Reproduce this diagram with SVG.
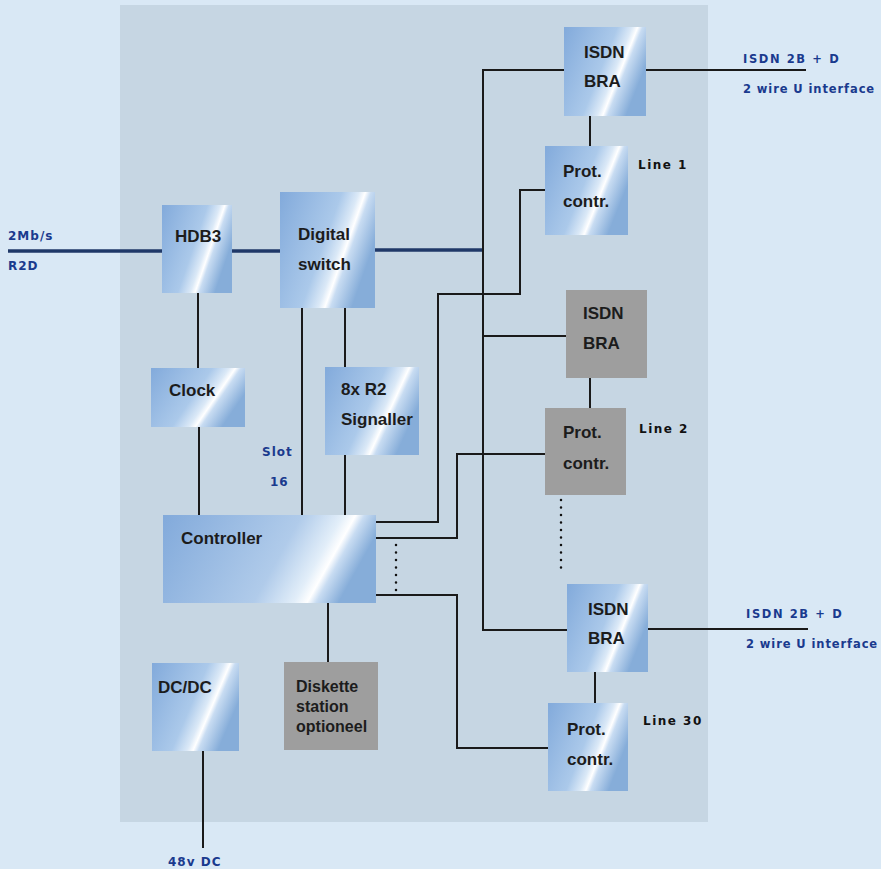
<svg xmlns="http://www.w3.org/2000/svg" width="881" height="869" viewBox="0 0 881 869">
<defs>
<linearGradient id="gBox" x1="0" y1="0" x2="1" y2="0.43">
<stop offset="0" stop-color="#82aadb"/>
<stop offset="0.55" stop-color="#abc9ea"/>
<stop offset="0.70" stop-color="#dbe9f7"/>
<stop offset="0.76" stop-color="#ffffff"/>
<stop offset="0.81" stop-color="#c8dcf2"/>
<stop offset="1" stop-color="#86add9"/>
</linearGradient>
<linearGradient id="gWide" x1="0" y1="0" x2="1" y2="0.23">
<stop offset="0" stop-color="#82aadb"/>
<stop offset="0.62" stop-color="#b0cbea"/>
<stop offset="0.80" stop-color="#e2eef9"/>
<stop offset="0.86" stop-color="#ffffff"/>
<stop offset="0.90" stop-color="#c8dcf2"/>
<stop offset="1" stop-color="#86add9"/>
</linearGradient>
<style>
.box{fill:url(#gBox);}
.wide{fill:url(#gWide);}
.gray{fill:#9e9e9e;}
.t{font-family:"Liberation Sans",Arial,sans-serif;font-weight:bold;font-size:17px;fill:#1c1c1c;}
.ts{font-family:"Liberation Sans",Arial,sans-serif;font-weight:bold;font-size:16px;fill:#1c1c1c;}
.lbl{font-family:"DejaVu Sans",sans-serif;font-weight:bold;font-size:12px;fill:#1a3a8e;letter-spacing:1px;}
.lbr{font-family:"DejaVu Sans",sans-serif;font-weight:bold;font-size:11.5px;fill:#1a3a8e;letter-spacing:1.6px;}
.lbw{font-family:"DejaVu Sans",sans-serif;font-weight:bold;font-size:11.5px;fill:#1a3a8e;letter-spacing:0.9px;}
.ln{font-family:"DejaVu Sans",sans-serif;font-weight:bold;font-size:12px;fill:#111;letter-spacing:1.5px;}
.w{fill:none;stroke:#1a1a1a;stroke-width:2;}
.thick{fill:none;stroke:#1f3868;stroke-width:3.5;}
.dot{fill:none;stroke:#111;stroke-width:2.5;stroke-linecap:round;stroke-dasharray:0 7.5;}
</style>
</defs>
<rect x="0" y="0" width="881" height="869" fill="#d9e8f5"/>
<rect x="120" y="5" width="588" height="817" fill="#c6d6e3"/>

<g id="connectors">
<path class="thick" d="M8 251 H162"/>
<path class="thick" d="M232 251 H280"/>
<path class="thick" d="M375 250 H483"/>
<path class="w" d="M198 293 V368"/>
<path class="w" d="M199 427 V515"/>
<path class="w" d="M302 308 V515"/>
<path class="w" d="M345 308 V367"/>
<path class="w" d="M345 455 V515"/>
<path class="w" d="M328 603 V662"/>
<path class="w" d="M203 751 V848"/>
<path class="w" d="M564 70 H483 V630 H567"/>
<path class="w" d="M483 336 H566"/>
<path class="w" d="M376 522 H438 V294 H520 V190 H545"/>
<path class="w" d="M376 538 H457 V454 H545"/>
<path class="w" d="M376 595 H457 V748 H548"/>
<path class="w" d="M590 116 V146"/>
<path class="w" d="M590 378 V408"/>
<path class="w" d="M595 672 V703"/>
<path class="w" d="M646 70 H806"/>
<path class="w" d="M648 629 H808"/>
<path class="dot" d="M396 545 V592"/>
<path class="dot" d="M561 500 V570"/>
</g>

<g id="hdb3"><rect class="box" x="162" y="205" width="70" height="88"/><text class="t" x="175" y="242">HDB3</text></g>
<g id="digital-switch"><rect class="box" x="280" y="192" width="95" height="116"/><text class="t" x="298" y="240">Digital</text><text class="t" x="298" y="270">switch</text></g>
<g id="clock"><rect class="box" x="151" y="368" width="94" height="59"/><text class="t" x="169" y="396">Clock</text></g>
<g id="signaller"><rect class="box" x="325" y="367" width="94" height="88"/><text class="t" x="341" y="395">8x R2</text><text class="t" x="341" y="425">Signaller</text></g>
<g id="controller"><rect class="wide" x="163" y="515" width="213" height="88"/><text class="t" x="181" y="544">Controller</text></g>
<g id="dcdc"><rect class="box" x="152" y="663" width="87" height="88"/><text class="t" x="158" y="693">DC/DC</text></g>
<g id="diskette"><rect class="gray" x="284" y="662" width="94" height="88"/><text class="ts" x="296" y="692">Diskette</text><text class="ts" x="296" y="712">station</text><text class="ts" x="296" y="732">optioneel</text></g>

<g id="isdn-bra-1"><rect class="box" x="564" y="27" width="82" height="89"/><text class="t" x="584" y="58">ISDN</text><text class="t" x="584" y="87">BRA</text></g>
<g id="prot-contr-1"><rect class="box" x="545" y="146" width="83" height="89"/><text class="t" x="563" y="177">Prot.</text><text class="t" x="563" y="207">contr.</text></g>
<g id="isdn-bra-2"><rect class="gray" x="566" y="290" width="81" height="88"/><text class="t" x="583" y="319">ISDN</text><text class="t" x="583" y="349">BRA</text></g>
<g id="prot-contr-2"><rect class="gray" x="545" y="408" width="81" height="87"/><text class="t" x="563" y="438">Prot.</text><text class="t" x="563" y="469">contr.</text></g>
<g id="isdn-bra-30"><rect class="box" x="567" y="584" width="81" height="88"/><text class="t" x="588" y="615">ISDN</text><text class="t" x="588" y="644">BRA</text></g>
<g id="prot-contr-30"><rect class="box" x="548" y="703" width="80" height="88"/><text class="t" x="567" y="735">Prot.</text><text class="t" x="567" y="765">contr.</text></g>

<g id="labels">
<text class="lbl" x="8" y="240">2Mb/s</text>
<text class="lbl" x="8" y="270">R2D</text>
<text class="lbl" x="262" y="456">Slot</text>
<text class="lbl" x="270" y="486">16</text>
<text class="lbl" x="168" y="866">48v DC</text>
<text class="lbr" x="743" y="63">ISDN 2B + D</text>
<text class="lbw" x="743" y="93">2 wire U interface</text>
<text class="lbr" x="746" y="618">ISDN 2B + D</text>
<text class="lbw" x="746" y="648">2 wire U interface</text>
<text class="ln" x="638" y="169">Line 1</text>
<text class="ln" x="639" y="433">Line 2</text>
<text class="ln" x="643" y="725">Line 30</text>
</g>
</svg>
